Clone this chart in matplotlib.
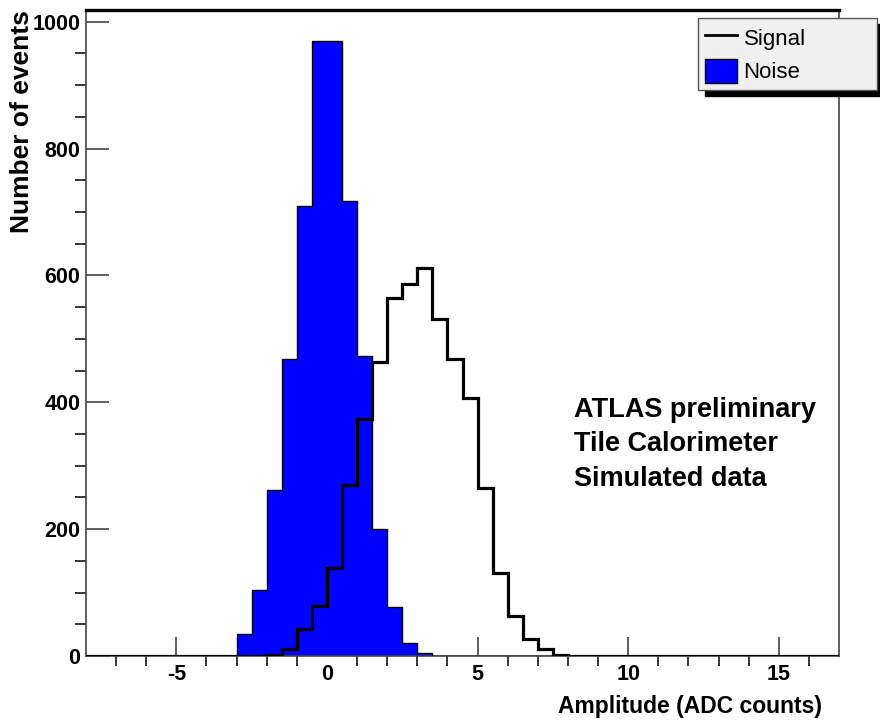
import numpy as np
import matplotlib
matplotlib.use('Agg')
import matplotlib.pyplot as plt
from matplotlib.lines import Line2D
from matplotlib.patches import Patch, Rectangle
from matplotlib.transforms import IdentityTransform

# histogram binning (ADC counts), 0.5 wide bins
x_min, x_max, bin_w = -8.0, 17.0, 0.5
edges = np.arange(x_min, x_max + bin_w / 2, bin_w)

# noise: bins starting at -3.0
noise_start = -3.0
noise_counts = [35, 104, 262, 468, 709, 970, 970, 717, 473, 200, 77, 20, 4]

# signal: bins starting at -2.0
signal_start = -2.0
signal_counts = [2, 11, 43, 79, 139, 270, 373, 463, 564, 586, 612, 531,
                 468, 407, 265, 131, 63, 27, 11, 1]

labels = ['Signal', 'Noise']
info_lines = ['ATLAS preliminary', 'Tile Calorimeter', 'Simulated data']


def full_hist(start, counts):
    h = np.zeros(len(edges) - 1)
    i0 = int(round((start - x_min) / bin_w))
    h[i0:i0 + len(counts)] = counts
    return h


noise = full_hist(noise_start, noise_counts)
signal = full_hist(signal_start, signal_counts)

plt.rcParams['font.family'] = ['Liberation Sans', 'DejaVu Sans']
plt.rcParams['font.weight'] = 'bold'
plt.rcParams['axes.unicode_minus'] = False

fig = plt.figure(figsize=(8.8, 7.22), dpi=100)
ax = fig.add_axes([86 / 880, 66 / 722, 753 / 880, 646 / 722])

ax.stairs(noise, edges, fill=True, color='#0000ff', zorder=2)
ax.stairs(noise, edges, color='black', lw=1.0, zorder=3)
ax.stairs(signal, edges, color='black', lw=2.3, zorder=4)

ax.set_xlim(x_min, x_max)
ax.set_ylim(0, 1.05 * max(noise_counts))

ax.set_xticks([-5, 0, 5, 10, 15])
ax.set_xticks(np.arange(-7, 17, 1), minor=True)
ax.set_yticks(np.arange(0, 1001, 200))
ax.set_yticks(np.arange(0, 1001, 50), minor=True)

ax.tick_params(direction='in', colors='#333333', labelcolor='black',
               labelsize=15.5, width=1.1, top=False, right=False)
ax.tick_params(axis='y', which='major', length=16.5, pad=4)
ax.tick_params(axis='y', which='minor', length=8, width=1.1)
ax.tick_params(axis='x', which='major', length=14, pad=6)
ax.tick_params(axis='x', which='minor', length=7, width=1.1)

for s in ['left', 'right', 'bottom']:
    ax.spines[s].set_color('#444444')
    ax.spines[s].set_linewidth(1.2)
ax.spines['top'].set_color('black')
ax.spines['top'].set_linewidth(2.4)

for i, line in enumerate(info_lines):
    ax.text(8.2, 377 - 54.5 * i, line, fontsize=19.5, fontweight='bold',
            va='baseline', ha='left')

fig.text(822 / 880, 1 - 706 / 722, 'Amplitude (ADC counts)', fontsize=16.5,
         fontweight='bold', ha='right', va='center')
fig.text(22 / 880, 1 - 10 / 722, 'Number of events', fontsize=19,
         fontweight='bold', rotation=90, ha='center', va='top')

handles = [Line2D([], [], color='black', lw=2.0),
           Patch(facecolor='#0000ff', edgecolor='black', lw=1.0)]
leg = fig.legend(handles, labels, loc='upper left',
                 bbox_to_anchor=(698 / 880, 1 - 91 / 722, 179 / 880, 73 / 722),
                 mode='expand', borderaxespad=0, fancybox=False,
                 facecolor='#f0f0f0', edgecolor='#555555', framealpha=1,
                 prop={'size': 16, 'weight': 'normal'}, handlelength=1.45,
                 handleheight=1.35, handletextpad=0.3, labelspacing=0.4,
                 borderpad=0.3)
leg.get_frame().set_linewidth(1.0)

# ROOT style drop shadow behind the legend box
fig.canvas.draw()
bb = leg.get_window_extent()
fig.add_artist(Rectangle((bb.x0 + 7, bb.y0 - 6), bb.width, bb.height,
                         transform=IdentityTransform(), color='black',
                         zorder=leg.get_zorder() - 0.1))

fig.savefig('out.png', dpi=100)
